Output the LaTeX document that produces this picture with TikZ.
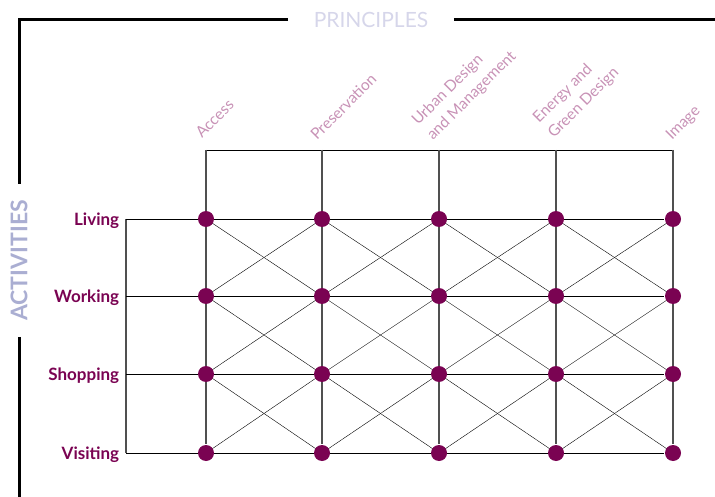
\documentclass[tikz,border=0pt]{standalone}
\usepackage{fontspec}
\setmainfont{Lato}
\usetikzlibrary{backgrounds}
\definecolor{prune}{HTML}{7A0352}
\definecolor{rose}{HTML}{C892B6}
\definecolor{lavande}{HTML}{D6D6EA}
\definecolor{bleuact}{HTML}{AAAED2}
\definecolor{grisfonce}{HTML}{505050}
\begin{document}
\begin{tikzpicture}[x=1pt, y=-1pt, line width=1.7pt,
  cadre/.style={line width=3pt},
  point/.style={circle, fill=prune, inner sep=0pt, minimum size=16pt},
  activite/.style={anchor=east, inner xsep=6pt, yshift=-2pt, text=prune,
    font=\bfseries\fontsize{17}{17}\selectfont},
  principe/.style={anchor=south west, rotate=45, inner sep=0pt, text depth=0pt,
    align=left, text=rose, font=\fontsize{15.5}{21}\selectfont}]

\useasboundingbox (0,0) rectangle (715,497);

% Cadre
\node[minimum width=164pt, inner sep=0pt, text=lavande,
  font=\fontsize{21}{21}\selectfont] (principes) at (371,20) {PRINCIPLES};
\node[minimum width=151pt, inner sep=0pt, rotate=90, text=bleuact,
  font=\bfseries\fontsize{23}{23}\selectfont] (activites) at (19,260.5) {ACTIVITIES};
\coordinate (coinhd) at (715,20);
\coordinate (coinbg) at (19,497);
\draw[cadre] (principes.west) -| (activites.east);
\draw[cadre] (principes.east) -- (coinhd);
\draw[cadre] (activites.west) -- (coinbg);

% Points
\foreach \x [count=\i] in {206,322,439,556,673} {
  \coordinate (h\i) at (\x,150);
  \foreach \y [count=\j] in {219,296,374,453}
    \node[point] (p\i\j) at (\x,\y) {};
}
\foreach \y [count=\j] in {219,296,374,453}
  \coordinate (g\j) at (126,\y);

% Lignes
\begin{scope}[on background layer]
  \draw (h1) -- (h5);
  \foreach \i in {1,...,5}
    \draw[grisfonce, line width=2pt] (h\i) -- (p\i4);
  \draw[grisfonce, line width=2pt] (g1) -- (g4);
  \foreach \j in {1,...,4}
    \draw (g\j) -- (p5\j);
  \foreach \i [evaluate=\i as \ii using int(\i+1)] in {1,...,4} {
    \foreach \j [evaluate=\j as \jj using int(\j+1)] in {1,...,3} {
      \draw (p\i\j.center) -- (p\ii\jj.center);
      \draw (p\ii\j.center) -- (p\i\jj.center);
    }
  }
\end{scope}

% Activites
\node[activite] (vivre) at (g1) {Living};
\node[activite] (travailler) at (g2) {Working};
\node[activite] (achats) at (g3) {Shopping};
\node[activite] (visiter) at (g4) {Visiting};

% Principes
\node[principe] (acces) at ([shift={(-4,-10)}]h1) {Access};
\node[principe] (preservation) at ([shift={(-5,-8)}]h2) {Preservation};
\node[principe] (urbain) at ([shift={(-6,-8)}]h3) {Urban Design\\and Management};
\node[principe] (energie) at ([shift={(-2,-10)}]h4) {Energy and\\Green Design};
\node[principe] (image) at ([shift={(-1,-8)}]h5) {Image};

\end{tikzpicture}
\end{document}
